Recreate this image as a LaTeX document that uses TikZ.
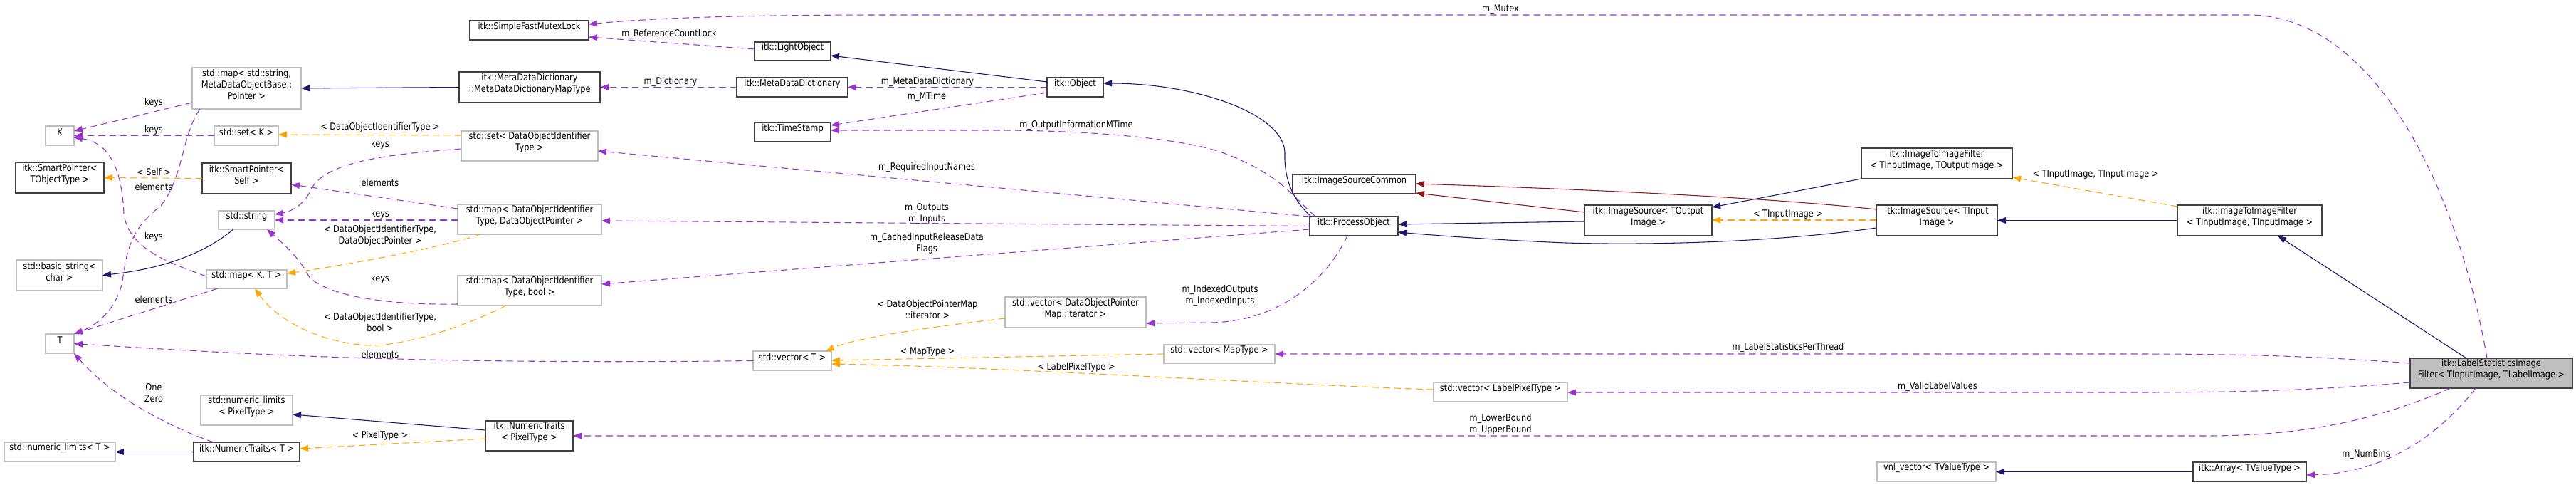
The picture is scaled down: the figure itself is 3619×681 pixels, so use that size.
\documentclass[tikz,border=0pt]{standalone}
\usepackage{fontspec}
\setmainfont{DejaVu Sans}[FakeStretch=0.85]
\usetikzlibrary{arrows.meta,fit}
\definecolor{inh}{HTML}{191970}
\definecolor{prot}{HTML}{8B1A1A}
\definecolor{usec}{HTML}{9A32CD}
\definecolor{tmpl}{HTML}{FFA500}
\definecolor{ubord}{HTML}{BFBFBF}
\definecolor{dbord}{HTML}{404040}
\definecolor{hl}{HTML}{BFBFBF}
\begin{document}
\begin{tikzpicture}[x=0.75pt,y=-0.75pt, font=\fontsize{10}{12}\selectfont,
 box/.style={inner sep=0pt, outer sep=0pt, align=center},
 gbox/.style={box, draw=ubord, line width=1pt},
 dbox/.style={box, draw=dbord, line width=1.1pt},
 lbox/.style={dbox, align=left},
 tip/.style={-{Triangle[length=9pt,width=6.5pt]}},
 inhe/.style={tip, draw=inh, line width=0.8pt},
 prote/.style={tip, draw=prot, line width=0.8pt},
 usee/.style={tip, draw=usec, line width=0.8pt, dash pattern=on 7pt off 4.5pt},
 tmple/.style={tip, draw=tmpl, line width=0.8pt, dash pattern=on 7pt off 4.5pt},
 lbl/.style={align=center, inner sep=0pt}
]
\fill[white] (0,0) rectangle (3619,681);
\useasboundingbox (0,0) rectangle (3619,681);

% nodes
\node[gbox, fit={(270,95) (423,153)}] (mapStr) {std::map< std::string,\\ MetaDataObjectBase::\\ Pointer >};
\node[gbox, fit={(64,177) (104,204)}] (K) {K};
\node[gbox, fit={(301,177) (391,204)}] (setK) {std::set< K >};
\node[dbox, fit={(22,228) (146,271)}] (SPT) {itk::SmartPointer<\\ TObjectType >};
\node[dbox, fit={(284,229) (409,272)}] (SPS) {itk::SmartPointer<\\ Self >};
\node[gbox, fit={(307,296) (386,322)}] (string) {std::string};
\node[gbox, fit={(23,365) (144,408)}] (basicstr) {std::basic\_string<\\ char >};
\node[gbox, fit={(290,379) (403,405)}] (mapKT) {std::map< K, T >};
\node[gbox, fit={(64,469) (104,496)}] (T) {T};
\node[gbox, fit={(282,555) (411,597)}] (nlPixel) {std::numeric\_limits\\ < PixelType >};
\node[gbox, fit={(6,621) (162,648)}] (nlT) {std::numeric\_limits< T >};
\node[dbox, fit={(272,621) (421,648)}] (NTT) {itk::NumericTraits< T >};
\node[dbox, fit={(660,29) (827,56)}] (Mutex) {itk::SimpleFastMutexLock};
\node[dbox, fit={(1060,59) (1167,85)}] (LightObject) {itk::LightObject};
\node[lbox, fit={(645,101) (843,144)}] (MDDMap) {itk::MetaDataDictionary\\ ::MetaDataDictionaryMapType};
\node[dbox, fit={(1035,109) (1191,136)}] (MDD) {itk::MetaDataDictionary};
\node[dbox, fit={(1060,172) (1167,199)}] (TimeStamp) {itk::TimeStamp};
\node[gbox, fit={(648,184) (840,226)}] (setDOI) {std::set< DataObjectIdentifier\\ Type >};
\node[gbox, fit={(643,287) (845,329)}] (mapDOIptr) {std::map< DataObjectIdentifier\\ Type, DataObjectPointer >};
\node[gbox, fit={(643,387) (845,429)}] (mapDOIbool) {std::map< DataObjectIdentifier\\ Type, bool >};
\node[gbox, fit={(1058,493) (1168,520)}] (vecT) {std::vector< T >};
\node[dbox, fit={(682,591) (805,633)}] (NTP) {itk::NumericTraits\\ < PixelType >};
\node[dbox, fit={(1471,109) (1550,136)}] (Object) {itk::Object};
\node[gbox, fit={(1412,417) (1610,460)}] (vecDOPMit) {std::vector< DataObjectPointer\\ Map::iterator >};
\node[gbox, fit={(1635,484) (1791,510)}] (vecMap) {std::vector< MapType >};
\node[dbox, fit={(1816,245) (1989,272)}] (ISC) {itk::ImageSourceCommon};
\node[dbox, fit={(1840,304) (1964,331)}] (PO) {itk::ProcessObject};
\node[dbox, fit={(2226,288) (2405,331)}] (ISout) {itk::ImageSource< TOutput\\ Image >};
\node[gbox, fit={(2014,537) (2202,564)}] (vecLabel) {std::vector< LabelPixelType >};
\node[lbox, fit={(2615,208) (2827,251)}] (I2Iout) {itk::ImageToImageFilter\\ < TInputImage, TOutputImage >};
\node[dbox, fit={(2636,288) (2806,331)}] (ISin) {itk::ImageSource< TInput\\ Image >};
\node[gbox, fit={(2637,649) (2804,676)}] (vnl) {vnl\_vector< TValueType >};
\node[lbox, fit={(3059,288) (3262,331)}] (I2Iin) {itk::ImageToImageFilter\\ < TInputImage, TInputImage >};
\node[lbox, fill=hl, fit={(3386,503) (3614,545)}] (LSIF) {itk::LabelStatisticsImage\\ Filter< TInputImage, TLabelImage >};
\node[dbox, fit={(3081,649) (3240,676)}] (Array) {itk::Array< TValueType >};

% edges: right part
\draw[usee] (LSIF.north -| 3494,0) .. controls (3450,250) and (3330,22) .. (3160,21) -- (1250,21) .. controls (1000,21) and (900,27) .. (Mutex.east |- 0,34);
\node[lbl] (lMutex) at (2108,13) {m\_Mutex};
\draw[usee] (LightObject.west |- 0,69) -- (Mutex.east |- 0,52);
\node[lbl] (lRef) at (940,48) {m\_ReferenceCountLock};
\draw[inhe] (Object.west |- 0,115) -- (LightObject.east |- 0,78);
\draw[inhe] (MDDMap.west) -- (mapStr.east);
\draw[usee] (MDD.west) -- (MDDMap.east);
\node[lbl] (lDict) at (942,115) {m\_Dictionary};
\draw[usee] (Object.west) -- (MDD.east);
\node[lbl] (lMDD) at (1303,115) {m\_MetaDataDictionary};
\draw[usee] (Object.west |- 0,130) -- (TimeStamp.east |- 0,176);
\node[lbl] (lMTime) at (1302,136) {m\_MTime};
\draw[usee] (PO.north -| 1848,0) .. controls (1815,275) and (1800,245) .. (1714,213) .. controls (1640,190) and (1500,183) .. (1400,183) -- (TimeStamp.east |- 0,183);
\node[lbl] (lOIM) at (1512,176) {m\_OutputInformationMTime};
\draw[inhe] (PO.north -| 1842,0) .. controls (1815,280) and (1804,250) .. (1805,215) .. controls (1805,160) and (1680,117) .. (Object.east |- 0,117);
\draw[usee] (PO.north west) -- (setDOI.east |- 0,212);
\node[lbl] (lReq) at (1302,235) {m\_RequiredInputNames};
\draw[usee] (PO.west) -- (mapDOIptr.east |- 0,310);
\node[lbl] (lOut) at (1302,300) {m\_Outputs\\m\_Inputs};
\draw[usee] (PO.west |- 0,322) -- (mapDOIbool.east |- 0,399);
\node[lbl] (lCache) at (1302,342) {m\_CachedInputReleaseData\\Flags};
\draw[usee] (PO.south -| 1893,0) .. controls (1860,400) and (1790,452) .. (1700,453) -- (vecDOPMit.east |- 0,454);
\node[lbl] (lIdx) at (1714,415) {m\_IndexedOutputs\\m\_IndexedInputs};
\draw[inhe] (ISout.west |- 0,311) -- (PO.east |- 0,315);
\draw[inhe] (ISin.west |- 0,320) .. controls (2480,342) and (2300,344) .. (2200,341) .. controls (2100,337) and (2010,330) .. (PO.east |- 0,326);
\draw[prote] (ISout.west |- 0,298) -- (ISC.east |- 0,271);
\draw[prote] (ISin.west |- 0,294) .. controls (2520,281) and (2300,268) .. (ISC.east |- 0,258);
\draw[inhe] (I2Iout.south west) -- (ISout.east |- 0,291);
\draw[tmple] (ISin.west |- 0,309) -- (ISout.east |- 0,309);
\node[lbl] (lTI) at (2512,301) {< TInputImage >};
\draw[inhe] (I2Iin.west) -- (ISin.east);
\draw[tmple] (I2Iin.west |- 0,290) -- (I2Iout.east |- 0,249);
\node[lbl] (lTITI) at (2944,245) {< TInputImage, TInputImage >};
\draw[inhe] (LSIF.north -| 3465,0) -- (I2Iin.south -| 3200,0);
\draw[usee] (LSIF.west |- 0,510) .. controls (3250,500) and (3150,497) .. (3000,497) -- (vecMap.east |- 0,497);
\node[lbl] (lLSPT) at (2512,488) {m\_LabelStatisticsPerThread};
\draw[usee] (LSIF.west |- 0,537) .. controls (3250,548) and (3150,551) .. (3000,551) -- (vecLabel.east |- 0,551);
\node[lbl] (lVLV) at (2722,543) {m\_ValidLabelValues};
\draw[usee] (LSIF.south -| 3443,0) .. controls (3350,585) and (3250,612) .. (3100,612) -- (NTP.east |- 0,612);
\node[lbl] (lBound) at (2108,596) {m\_LowerBound\\m\_UpperBound};
\draw[usee] (LSIF.south -| 3478,0) .. controls (3420,620) and (3340,665) .. (Array.east |- 0,667);
\node[lbl] (lBins) at (3324,638) {m\_NumBins};
\draw[inhe] (Array.west) -- (vnl.east);
\draw[tmple] (vecMap.west) -- (vecT.east |- 0,506);
\node[lbl] (lMT) at (1303,494) {< MapType >};
\draw[tmple] (vecLabel.west |- 0,547) .. controls (1800,540) and (1400,515) .. (vecT.east |- 0,511);
\node[lbl] (lLPT) at (1512,516) {< LabelPixelType >};
\draw[tmple] (vecDOPMit.west |- 0,447) .. controls (1300,460) and (1200,475) .. (vecT.north -| 1160,0);
\node[lbl] (lDOPM) at (1303,435) {< DataObjectPointerMap\\::iterator >};

% edges: left part
\draw[usee] (vecT.west) .. controls (600,512) and (350,498) .. (T.east);
\node[lbl] (lEl1) at (534,498) {elements};
\draw[usee] (mapKT.south -| 306,0) -- (T.north east);
\node[lbl] (lEl2) at (216,421) {elements};
\draw[usee] (mapKT.west |- 0,388) .. controls (240,370) and (180,350) .. (174,300) .. controls (171,230) and (150,200) .. (K.east |- 0,193);
\node[lbl] (lKeys3) at (216,333) {keys};
\draw[usee] (mapStr.south -| 281,0) .. controls (255,190) and (258,250) .. (225,290) .. controls (185,320) and (178,350) .. (172,395) .. controls (165,430) and (140,455) .. (T.north east);
\node[lbl] (lEl3) at (216,263) {elements};
\draw[usee] (mapStr.west |- 0,144) -- (K.east |- 0,184);
\node[lbl] (lKeys1) at (216,144) {keys};
\draw[usee] (setK.west) -- (K.east);
\node[lbl] (lKeys2) at (216,183) {keys};
\draw[tmple] (setDOI.west |- 0,190) -- (setK.east |- 0,189);
\node[lbl] (lDOIT) at (534,179) {< DataObjectIdentifierType >};
\draw[usee] (setDOI.west |- 0,209) .. controls (520,218) and (450,232) .. (435,270) .. controls (425,290) and (405,298) .. (string.east |- 0,301);
\node[lbl] (lKeys4) at (534,203) {keys};
\draw[usee] (mapDOIptr.west |- 0,293) -- (SPS.east |- 0,259);
\node[lbl] (lEl4) at (534,257) {elements};
\draw[usee] (mapDOIptr.west |- 0,309) -- (string.east |- 0,309);
\node[lbl] (lKeys5) at (534,301) {keys};
\draw[tmple] (mapDOIptr.south -| 675,0) .. controls (630,345) and (500,370) .. (mapKT.east |- 0,384);
\node[lbl] (lDOIDP) at (534,331) {< DataObjectIdentifierType,\\DataObjectPointer >};
\draw[usee] (mapDOIbool.west |- 0,427) .. controls (560,428) and (470,420) .. (435,390) .. controls (420,360) and (395,340) .. (string.south -| 375,0);
\node[lbl] (lKeys6) at (534,392) {keys};
\draw[tmple] (mapDOIbool.south -| 711,0) .. controls (650,460) and (570,485) .. (520,485) .. controls (450,482) and (390,450) .. (mapKT.south -| 358,0);
\node[lbl] (lDOIB) at (534,453) {< DataObjectIdentifierType,\\bool >};
\draw[tmple] (SPS.west) -- (SPT.east);
\node[lbl] (lSelf) at (216,242) {< Self >};
\draw[inhe] (string.south -| 328,0) .. controls (300,345) and (250,375) .. (basicstr.east);
\draw[usee] (NTT.north -| 300,0) .. controls (240,600) and (160,560) .. (T.south east);
\node[lbl] (lOne) at (216,552) {One\\Zero};
\draw[inhe] (NTT.west) -- (nlT.east);
\draw[inhe] (NTP.west |- 0,604) -- (nlPixel.east |- 0,582);
\draw[tmple] (NTP.west |- 0,616) -- (NTT.east |- 0,630);
\node[lbl] (lPT) at (534,612) {< PixelType >};
\end{tikzpicture}
\end{document}
